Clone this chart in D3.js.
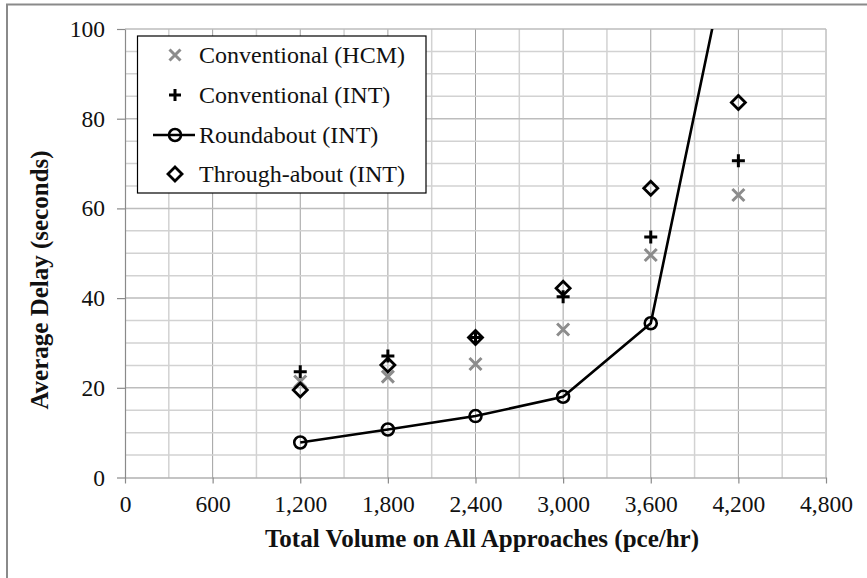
<!DOCTYPE html>
<html>
<head>
<meta charset="utf-8">
<script src="https://cdn.jsdelivr.net/npm/d3@7"></script>
<style>
  html, body { margin: 0; padding: 0; background: #fff; }
  svg { display: block; }
  text { font-family: "Liberation Serif", "Times New Roman", serif; }
</style>
</head>
<body>
<svg id="chart" width="867" height="578"></svg>
<script>
// ---- data ----
const volumes = [1200, 1800, 2400, 3000, 3600, 4200];
const conventionalHCM = [21.4, 22.5, 25.3, 33.0, 49.6, 63.0];
const conventionalINT = [23.6, 27.1, 31.2, 40.3, 53.6, 70.6];
const roundaboutINT   = [7.8, 10.7, 13.7, 18.0, 34.4, 128];
const throughaboutINT = [19.5, 25.1, 31.2, 42.2, 64.5, 83.6];
const xTicks = [0, 600, 1200, 1800, 2400, 3000, 3600, 4200, 4800];
const yTicks = [0, 20, 40, 60, 80, 100];
const legendLabels = ["Conventional (HCM)", "Conventional (INT)", "Roundabout (INT)", "Through-about (INT)"];
const xTitle = "Total Volume on All Approaches (pce/hr)";
const yTitle = "Average Delay (seconds)";

const svg = d3.select("#chart");
const W = 867, H = 578;
const plot = { left: 125, right: 826, top: 29, bottom: 477.5 };

// outer frame
svg.append("rect").attr("x", 7).attr("y", 4.5).attr("width", 900).attr("height", 700)
  .attr("fill", "#fff").attr("stroke", "#8a8a8a").attr("stroke-width", 2);

const x = d3.scaleLinear().domain([0, 4800]).range([plot.left, plot.right]);
const y = d3.scaleLinear().domain([0, 100]).range([plot.bottom, plot.top]);

// gridlines
const g = svg.append("g");
d3.range(300, 4801, 300).forEach(v => {
  const major = v % 600 === 0;
  g.append("line").attr("x1", x(v)).attr("x2", x(v)).attr("y1", y(0)).attr("y2", y(100))
    .attr("stroke", major ? "#a0a0a0" : "#d2d2d2").attr("stroke-width", major ? 1 : 1.5);
});
d3.range(5, 101, 5).forEach(v => {
  const major = v % 20 === 0;
  g.append("line").attr("x1", x(0)).attr("x2", x(4800)).attr("y1", y(v)).attr("y2", y(v))
    .attr("stroke", major ? "#bdbdbd" : "#d2d2d2").attr("stroke-width", 1.5);
});

// axes
const fmt = d3.format(",");
const xAxis = svg.append("g").attr("transform", `translate(0,${plot.bottom})`)
  .call(d3.axisBottom(x).tickValues(xTicks).tickSize(6).tickSizeOuter(0).tickPadding(12).tickFormat(fmt));
const yAxis = svg.append("g").attr("transform", `translate(${plot.left},0)`)
  .call(d3.axisLeft(y).tickValues(yTicks).tickSize(8).tickSizeOuter(0).tickPadding(12));
[xAxis, yAxis].forEach(a => {
  a.select(".domain").attr("stroke", "#8a8a8a").attr("stroke-width", 1.2);
  a.selectAll(".tick line").attr("stroke", "#8a8a8a").attr("stroke-width", 1.2);
  a.selectAll(".tick text").attr("fill", "#111")
    .style("font-family", '"Liberation Serif", serif').style("font-size", "23.5px");
});

// titles
svg.append("text").attr("x", 482).attr("y", 547).attr("text-anchor", "middle")
  .style("font-size", "25px").style("font-weight", "bold").attr("fill", "#111").text(xTitle);
svg.append("text").attr("transform", "translate(48,280) rotate(-90)").attr("text-anchor", "middle")
  .style("font-size", "25px").style("font-weight", "bold").attr("fill", "#111").text(yTitle);

// marker helpers
function drawX(sel, cx, cy, s) {
  sel.append("path").attr("d", `M${cx - s},${cy - s}L${cx + s},${cy + s}M${cx - s},${cy + s}L${cx + s},${cy - s}`)
    .attr("stroke", "#8c8c8c").attr("stroke-width", 3).attr("fill", "none");
}
function drawPlus(sel, cx, cy, s) {
  sel.append("path").attr("d", `M${cx - s},${cy}L${cx + s},${cy}M${cx},${cy - s}L${cx},${cy + s}`)
    .attr("stroke", "#000").attr("stroke-width", 3).attr("fill", "none");
}
function drawDiamond(sel, cx, cy, s) {
  sel.append("path").attr("d", `M${cx},${cy - s}L${cx + s},${cy}L${cx},${cy + s}L${cx - s},${cy}Z`)
    .attr("stroke", "#000").attr("stroke-width", 2.8).attr("fill", "none");
}
function drawCircle(sel, cx, cy, r) {
  sel.append("circle").attr("cx", cx).attr("cy", cy).attr("r", r)
    .attr("stroke", "#000").attr("stroke-width", 2.6).attr("fill", "none");
}

// clip
svg.append("clipPath").attr("id", "clip").append("rect")
  .attr("x", plot.left).attr("y", plot.top).attr("width", plot.right - plot.left).attr("height", plot.bottom - plot.top);

const marks = svg.append("g");
volumes.forEach((v, i) => drawX(marks, x(v), y(conventionalHCM[i]), 6));
volumes.forEach((v, i) => drawPlus(marks, x(v), y(conventionalINT[i]), 6.5));

const line = d3.line().x((d, i) => x(volumes[i])).y(d => y(d));
svg.append("path").datum(roundaboutINT).attr("clip-path", "url(#clip)")
  .attr("d", line).attr("fill", "none").attr("stroke", "#000").attr("stroke-width", 2.6);
const cm = svg.append("g").attr("clip-path", "url(#clip)");
volumes.forEach((v, i) => { if (roundaboutINT[i] <= 100) drawCircle(cm, x(v), y(roundaboutINT[i]), 6); });

const dm = svg.append("g");
volumes.forEach((v, i) => drawDiamond(dm, x(v), y(throughaboutINT[i]), 7));

// legend
const lg = svg.append("g");
lg.append("rect").attr("x", 137.5).attr("y", 36).attr("width", 288.5).attr("height", 157)
  .attr("fill", "#fff").attr("stroke", "#000").attr("stroke-width", 1.2);
const rowsY = [55, 95, 135, 174];
drawX(lg, 175, rowsY[0], 5.5);
drawPlus(lg, 175, rowsY[1], 6);
lg.append("line").attr("x1", 153).attr("x2", 195).attr("y1", rowsY[2]).attr("y2", rowsY[2])
  .attr("stroke", "#000").attr("stroke-width", 2.6);
drawCircle(lg, 175, rowsY[2], 6);
drawDiamond(lg, 175, rowsY[3], 7);
legendLabels.forEach((t, i) => {
  lg.append("text").attr("x", 199).attr("y", rowsY[i] + 8).style("font-size", "24px")
    .attr("fill", "#111").text(t);
});
</script>
</body>
</html>
